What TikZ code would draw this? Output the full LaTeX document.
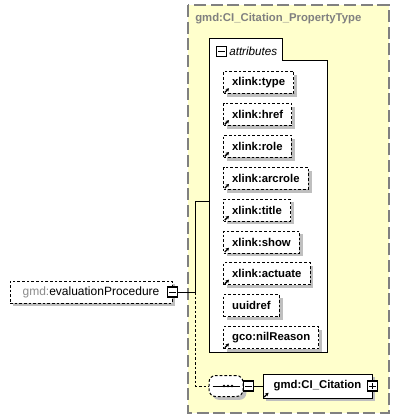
\documentclass[tikz,border=0pt]{standalone}
\usepackage{fontspec}
\setmainfont{Liberation Sans}
\usetikzlibrary{shadows,arrows.meta}

\definecolor{propyellow}{RGB}{255,255,204}
\definecolor{propgray}{RGB}{128,128,128}
\definecolor{nsgray}{RGB}{140,140,140}

\begin{document}
\begin{tikzpicture}[x=0.75pt,y=-0.75pt,
    box/.style={draw,fill=white,line width=0.75pt,minimum height=16.5pt,
        inner xsep=6.5pt,inner ysep=0pt,
        font=\fontsize{8.5}{10}\selectfont\bfseries,
        drop shadow={shadow xshift=2.5pt,shadow yshift=-2.5pt,fill=black!25,opacity=1}},
    optbox/.style={box,dash pattern=on 2pt off 1.5pt},
    toggle/.style={draw,fill=white,line width=0.9pt,minimum size=7.5pt,inner sep=0pt},
    minus/.style={toggle,path picture={
        \draw[line width=0.75pt] ([xshift=-2.3pt]path picture bounding box.center)
            -- ([xshift=2.3pt]path picture bounding box.center);}},
    plus/.style={toggle,path picture={
        \draw[line width=0.75pt] ([xshift=-2.3pt]path picture bounding box.center)
            -- ([xshift=2.3pt]path picture bounding box.center);
        \draw[line width=0.75pt] ([yshift=-2.3pt]path picture bounding box.center)
            -- ([yshift=2.3pt]path picture bounding box.center);}},
    refmark/.style={-{Stealth[length=2.4pt,width=2.8pt]},line width=1pt},
    link/.style={line width=0.75pt}
]
\useasboundingbox (0,0) rectangle (407,420);

% property type frame
\draw[fill=propyellow,draw=propgray,line width=0.9pt,dash pattern=on 9pt off 3.5pt]
    (188,5) rectangle (389,413);
\node[anchor=west,inner sep=0pt,text=propgray,font=\fontsize{8.5}{10}\selectfont\bfseries]
    (proptitle) at (195,19) {gmd:CI\_Citation\_PropertyType};

% attributes group
\draw[fill=white,line width=0.75pt] (209,352) -- (209,39) -- (282,39) -- (282,61)
    -- (327,61) -- (327,352) -- cycle;
\node[minus] (attrtoggle) at (221.5,51.5) {};
\node[anchor=west,inner sep=0pt,font=\fontsize{8.75}{10}\selectfont\itshape]
    (attrlabel) at (229,51) {attributes};

\foreach \nm/\tx/\mk [count=\i from 0] in {type/xlink:type/1, href/xlink:href/1,
        role/xlink:role/1, arcrole/xlink:arcrole/1, title/xlink:title/1,
        show/xlink:show/1, actuate/xlink:actuate/1, uuidref/uuidref/0,
        nilreason/gco:nilReason/1}{
    \node[optbox,anchor=north west] (\nm) at (223,71+31.9*\i) {\tx};
    \ifnum\mk=1
        \draw[refmark] ([shift={(1.3pt,1.1pt)}]\nm.south west) -- ++(3.2pt,3.2pt);
    \fi
}

% element
\node[optbox,font=\fontsize{9}{10}\selectfont,minimum width=121.5pt]
    (evalproc) at (91,292) {\textcolor{nsgray}{gmd:}evaluationProcedure};
\node[minus] (evaltoggle) at (evalproc.east) {};

% sequence and child
\node[optbox,rounded corners=5pt,minimum width=25.5pt,minimum height=15.75pt,inner sep=0pt]
    (seq) at (226,386) {};
\draw[link] ([xshift=3pt]seq.west) -- ([xshift=-3pt]seq.east);
\foreach \dx in {-4,0,4}{
    \fill ([xshift=1.5pt+\dx*0.75pt]seq.center) circle (1.1pt);
}
\node[minus] (seqtoggle) at (248.5,386) {};

\node[box,minimum width=81.75pt,minimum height=18pt] (citation) at (317.5,386) {gmd:CI\_Citation};
\node[plus] (citetoggle) at (citation.east) {};
\draw[refmark] ([shift={(1.3pt,1.1pt)}]citation.south west) -- ++(3.2pt,3.2pt);

% connectors
\coordinate (fork) at (195,292);
\coordinate (attrin) at (209,201);
\draw[link] (evaltoggle.east) -- (fork) |- (attrin);
\draw[link,dash pattern=on 2pt off 1.5pt] (fork) |- (seq.west);
\draw[link] (seq.east) -- (seqtoggle.west);
\draw[link] (seqtoggle.east) -- (citation.west);
\end{tikzpicture}
\end{document}
